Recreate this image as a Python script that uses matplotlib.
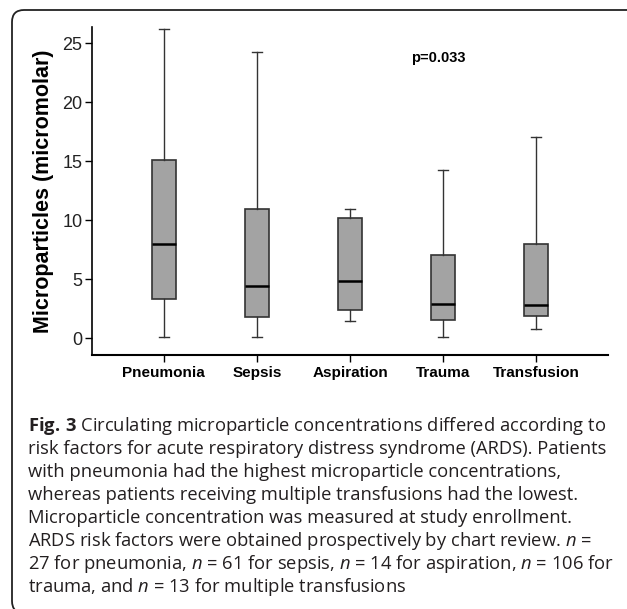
import matplotlib
matplotlib.use("Agg")
from matplotlib import pyplot as plt
from matplotlib.patches import FancyBboxPatch
from matplotlib.transforms import IdentityTransform

# valores (micromolar)
categorias = ['Pneumonia', 'Sepsis', 'Aspiration', 'Trauma', 'Transfusion']
bigode_min = [0.05, 0.05, 1.4, 0.05, 0.8]
q1 = [3.3, 1.75, 2.35, 1.55, 1.9]
mediana = [7.95, 4.45, 4.85, 2.85, 2.8]
q3 = [15.05, 10.95, 10.2, 7.05, 7.95]
bigode_max = [26.2, 24.25, 10.95, 14.25, 17.05]
p_valor = 'p=0.033'

legenda = [
    r'$\mathbf{Fig.\,3}$ Circulating microparticle concentrations differed according to',
    'risk factors for acute respiratory distress syndrome (ARDS). Patients',
    'with pneumonia had the highest microparticle concentrations,',
    'whereas patients receiving multiple transfusions had the lowest.',
    'Microparticle concentration was measured at study enrollment.',
    r'ARDS risk factors were obtained prospectively by chart review. $n$ =',
    r'27 for pneumonia, $n$ = 61 for sepsis, $n$ = 14 for aspiration, $n$ = 106 for',
    r'trauma, and $n$ = 13 for multiple transfusions',
]

plt.rcParams['mathtext.fontset'] = 'custom'
plt.rcParams['mathtext.rm'] = 'Open Sans'
plt.rcParams['mathtext.it'] = 'Open Sans:italic'
plt.rcParams['mathtext.bf'] = 'Open Sans:bold'

W, H = 627, 609
fig = plt.figure(figsize=(W / 100, H / 100), dpi=100)
ax = fig.add_axes([92 / W, 1 - 355 / H, 516 / W, 328 / H])

stats = []
for i, nome in enumerate(categorias):
    stats.append({'label': nome, 'whislo': bigode_min[i], 'q1': q1[i], 'med': mediana[i],
                  'q3': q3[i], 'whishi': bigode_max[i], 'fliers': []})

ax.bxp(stats, widths=0.26, capwidths=0.11, patch_artist=True, showfliers=False,
       boxprops=dict(facecolor='#a3a3a3', edgecolor='#333333', linewidth=1.2),
       medianprops=dict(color='black', linewidth=1.8),
       whiskerprops=dict(color='#333333', linewidth=1.0),
       capprops=dict(color='#333333', linewidth=1.0))

ax.set_xlim(0.23, 5.77)
ax.set_ylim(-1.44, 26.36)
ax.set_yticks([0, 5, 10, 15, 20, 25])
for s in ['top', 'right']:
    ax.spines[s].set_visible(False)
ax.spines['left'].set_linewidth(1.2)
ax.spines['bottom'].set_linewidth(1.5)
ax.tick_params(axis='y', length=5, width=1, labelsize=13, pad=2)
ax.tick_params(axis='x', length=5, width=1, pad=3)
for lbl in ax.get_yticklabels():
    lbl.set_fontfamily('Liberation Sans')
    lbl.set_color('#222222')
for lbl in ax.get_xticklabels():
    lbl.set_fontfamily('Liberation Sans')
    lbl.set_fontweight('bold')
    lbl.set_fontsize(11)
ax.set_ylabel('Microparticles (micromolar)', fontfamily='Liberation Sans',
              fontweight='bold', fontsize=15.5, labelpad=6)
ax.text(0.672, 0.907, p_valor, transform=ax.transAxes, ha='center', va='center',
        fontfamily='Liberation Sans', fontweight='bold', fontsize=10.5)

# legenda da figura
for i, linha in enumerate(legenda):
    fig.text(28 / W, 1 - (426 + 23 * i) / H, linha, ha='left', va='center',
             fontfamily='Open Sans', fontsize=13.2, color='#231f20')

# moldura arredondada
caixa = FancyBboxPatch((12, -4), 640, 603, boxstyle='round,pad=0,rounding_size=12',
                       transform=IdentityTransform(), fill=False, edgecolor='#222222',
                       linewidth=1.3)
fig.add_artist(caixa)

fig.savefig('out.png', dpi=100)
